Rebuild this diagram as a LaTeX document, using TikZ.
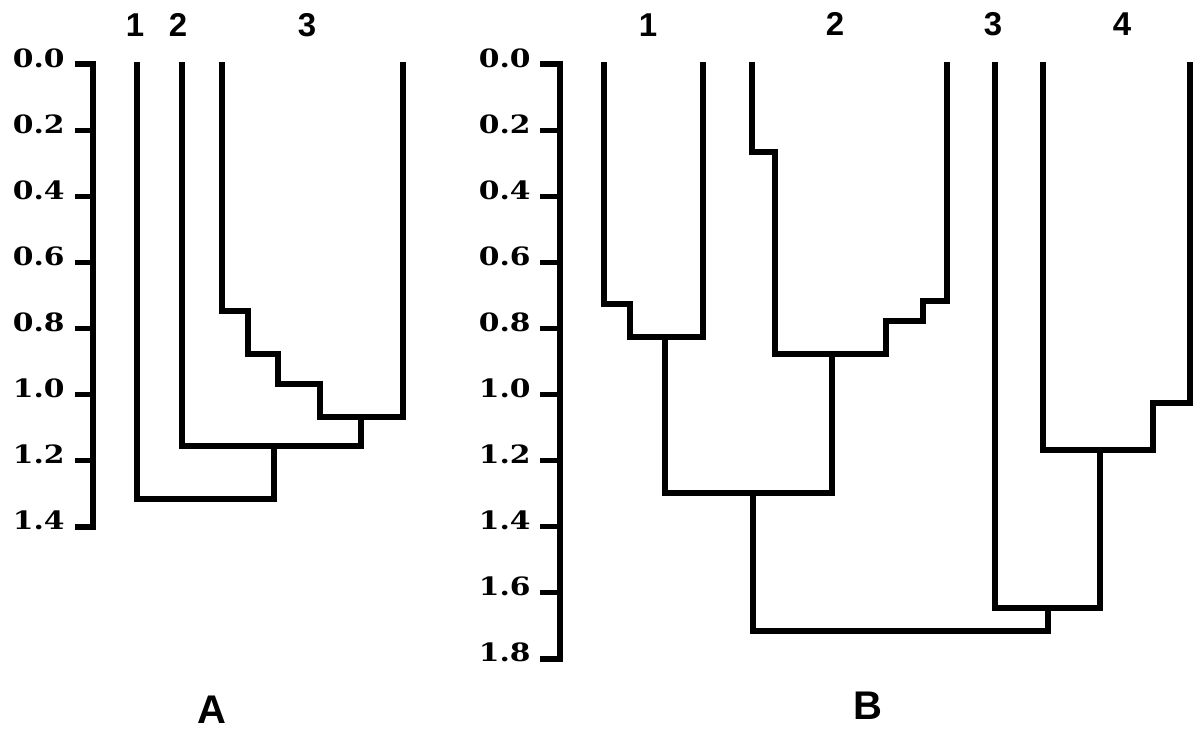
\documentclass[tikz,border=0pt]{standalone}
\usepackage{fontspec}
\setmainfont{Liberation Serif}
\newfontfamily\tickfont{DejaVu Serif}
\newfontfamily\labfont{Liberation Sans}
\begin{document}
\begin{tikzpicture}[x=0.5pt,y=-0.5pt,
  tree/.style={line width=2.6pt,line join=miter},
  axisline/.style={line width=2.6pt,line join=miter},
  ticklab/.style={anchor=base east,inner sep=0pt,font=\tickfont\bfseries\fontsize{12.6}{14}\selectfont},
  leaflab/.style={inner sep=0pt,font=\labfont\bfseries\fontsize{16.5}{18}\selectfont},
  panellab/.style={inner sep=0pt,font=\labfont\bfseries\fontsize{20}{22}\selectfont}]
\useasboundingbox[fill=white] (0,0) rectangle (1200,739);

% ---------- Panel A axis ----------
\coordinate (Atop) at (93,64);
\coordinate (Abot) at (93,527);
\draw[axisline] (75,64) -- (Atop) -- (Abot) -- (75,527);
\foreach \k in {1,...,6}{
  \draw[axisline] (75,{64+66.1*\k}) -- (93,{64+66.1*\k});
}
\foreach \k/\t in {0/0.0,1/0.2,2/0.4,3/0.6,4/0.8,5/1.0,6/1.2,7/1.4}{
  \node[ticklab] (atl\k) at (65,{67+66.1*\k}) {\scalebox{1.18}[1]{\t}};
}

% ---------- Panel A tree ----------
\coordinate (a1) at (137,62);
\coordinate (a2) at (182,62);
\coordinate (a3) at (222,62);
\coordinate (a4) at (403,62);
\coordinate (n34) at (361,417);
\coordinate (n234) at (274,446);
\draw[tree] (a3) |- (248,311) |- (278,354) |- (320,384) |- (403,417) -- (a4);
\draw[tree] (a2) |- (361,446) -- (n34);
\draw[tree] (a1) |- (274,499) -- (n234);

\node[leaflab] (la1) at (135,25) {1};
\node[leaflab] (la2) at (178,25) {2};
\node[leaflab] (la3) at (307,25) {3};
\node[panellab] (pA) at (212,710) {A};

% ---------- Panel B axis ----------
\coordinate (Btop) at (560,64);
\coordinate (Bbot) at (560,659);
\draw[axisline] (540,64) -- (Btop) -- (Bbot) -- (540,659);
\foreach \k in {1,...,8}{
  \draw[axisline] (540,{64+66.1*\k}) -- (560,{64+66.1*\k});
}
\foreach \k/\t in {0/0.0,1/0.2,2/0.4,3/0.6,4/0.8,5/1.0,6/1.2,7/1.4,8/1.6,9/1.8}{
  \node[ticklab] (btl\k) at (531,{67+66.1*\k}) {\scalebox{1.18}[1]{\t}};
}

% ---------- Panel B tree ----------
\coordinate (b1) at (604,62);
\coordinate (b2) at (703,62);
\coordinate (b3) at (752,62);
\coordinate (b4) at (947,62);
\coordinate (b5) at (995,62);
\coordinate (b6) at (1043,62);
\coordinate (b7) at (1190,62);
\coordinate (m1) at (665,337);
\coordinate (m2) at (832,354);
\coordinate (m12) at (753,493);
\coordinate (m4) at (1100,450);
\coordinate (m34) at (1048,608);

\draw[tree] (b1) |- (630,304) |- (703,337) -- (b2);
\draw[tree] (b3) |- (775,152) |- (886,354) |- (923,321) |- (947,301) -- (b4);
\draw[tree] (m1) |- (832,493) -- (m2);
\draw[tree] (b6) |- (1153,450) |- (1190,403) -- (b7);
\draw[tree] (b5) |- (1100,608) -- (m4);
\draw[tree] (m12) |- (1048,631) -- (m34);

\node[leaflab] (lb1) at (648,25) {1};
\node[leaflab] (lb2) at (835,24) {2};
\node[leaflab] (lb3) at (993,24) {3};
\node[leaflab] (lb4) at (1122,24) {4};
\node[panellab] (pB) at (868,706) {B};
\end{tikzpicture}
\end{document}
